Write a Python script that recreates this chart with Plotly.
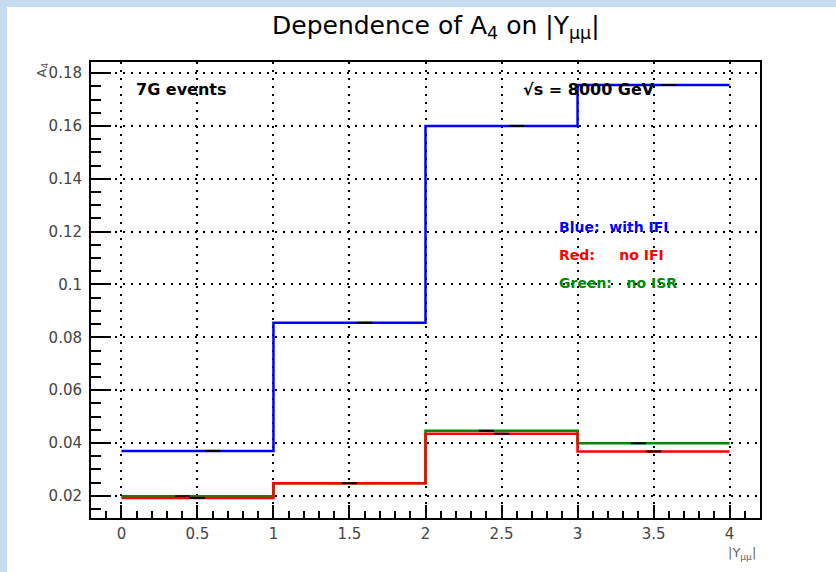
import plotly.graph_objects as go

# ---------------- data ----------------
bin_edges = [0, 1, 2, 3, 4]
bin_centers = [0.5, 1.5, 2.5, 3.5]
blue_with_ifi = [0.0370, 0.0855, 0.1600, 0.1755]
green_no_isr = [0.0198, 0.0248, 0.0446, 0.0399]
red_no_ifi = [0.0192, 0.0248, 0.0435, 0.0368]

x_tick_vals = [0, 0.5, 1, 1.5, 2, 2.5, 3, 3.5, 4]
x_tick_labels = ["0", "0.5", "1", "1.5", "2", "2.5", "3", "3.5", "4"]
y_tick_vals = [0.02, 0.04, 0.06, 0.08, 0.10, 0.12, 0.14, 0.16, 0.18]
y_tick_labels = ["0.02", "0.04", "0.06", "0.08", "0.1", "0.12", "0.14", "0.16", "0.18"]

# ---------------- geometry ----------------
W, H = 836, 572
L, R, T, B = 91, 76, 62, 54
PW, PH = W - L - R, H - T - B


def px2x(px):
    return (px - L) / PW


def py2y(py):
    return (H - B - py) / PH


FONT = "DejaVu Sans"

fig = go.Figure()


def add_hist(vals, color, offset):
    fig.add_trace(go.Scatter(
        x=bin_edges, y=vals + [vals[-1]], mode="lines",
        line=dict(shape="hv", color=color, width=2.5),
        hoverinfo="skip", showlegend=False))
    fig.add_trace(go.Scatter(
        x=[c + offset for c in bin_centers], y=vals, mode="markers",
        marker=dict(symbol="line-ew", size=11, color="black",
                    line=dict(width=2, color="black")),
        hoverinfo="skip", showlegend=False))


add_hist(blue_with_ifi, "#0000ff", 0.1)
add_hist(green_no_isr, "#008a00", -0.1)
add_hist(red_no_ifi, "#ff0000", 0.0)

axis_common = dict(
    ticks="inside", tickwidth=2, tickcolor="black",
    showline=True, linewidth=2, linecolor="black", mirror=True,
    showgrid=True, gridcolor="black", gridwidth=1.5, griddash="2px,6px",
    zeroline=False, tickfont=dict(family=FONT, size=15, color="#444"),
)

fig.update_xaxes(
    range=[-0.2, 4.2], tickmode="array", tickvals=x_tick_vals, ticktext=x_tick_labels,
    ticklen=13, ticklabelstandoff=1,
    minor=dict(ticks="inside", ticklen=7, tick0=0, dtick=0.1, tickwidth=2,
               tickcolor="black", showgrid=False),
    **axis_common)
fig.update_yaxes(
    range=[0.0116, 0.1842], tickmode="array", tickvals=y_tick_vals, ticktext=y_tick_labels,
    ticklen=20, ticklabelstandoff=4,
    minor=dict(ticks="inside", ticklen=10, tick0=0, dtick=0.005, tickwidth=2,
               tickcolor="black", showgrid=False),
    **axis_common)

ann = []
# title
ann.append(dict(text="Dependence of A<sub>4</sub> on |Y<sub>μμ</sub>|",
                x=px2x(436), y=py2y(27), xanchor="center", yanchor="middle",
                font=dict(family=FONT, size=25, color="black")))
# y-axis title (rotated, at top)
ann.append(dict(text="A<sub>4</sub>", textangle=-90,
                x=px2x(42), y=py2y(61), xanchor="center", yanchor="top",
                font=dict(family=FONT, size=13, color="#555")))
# x-axis title (at right end)
ann.append(dict(text="|Y<sub>μμ</sub>|",
                x=px2x(758), y=py2y(553), xanchor="right", yanchor="middle",
                font=dict(family=FONT, size=13, color="#666")))
# in-plot labels
ann.append(dict(text="<b>7G events</b>", x=px2x(134), y=py2y(90),
                xanchor="left", yanchor="middle",
                font=dict(family=FONT, size=16, color="black")))
ann.append(dict(text="<b>√s = 8000 GeV</b>", x=px2x(521), y=py2y(90),
                xanchor="left", yanchor="middle",
                font=dict(family=FONT, size=16, color="black")))
ann.append(dict(text="<b>Blue:  with IFI</b>", x=px2x(557), y=py2y(227),
                xanchor="left", yanchor="middle",
                font=dict(family=FONT, size=14, color="#0000ff")))
ann.append(dict(text="<b>Red:     no IFI</b>", x=px2x(557), y=py2y(255),
                xanchor="left", yanchor="middle",
                font=dict(family=FONT, size=14, color="#ff0000")))
ann.append(dict(text="<b>Green:   no ISR</b>", x=px2x(557), y=py2y(283),
                xanchor="left", yanchor="middle",
                font=dict(family=FONT, size=14, color="#008a00")))
for a in ann:
    a.update(xref="paper", yref="paper", showarrow=False)

shapes = [
    dict(type="rect", xref="paper", yref="paper", x0=px2x(0), x1=px2x(7),
         y0=py2y(H), y1=py2y(0), fillcolor="#c6dcf1", line=dict(width=0), layer="below"),
    dict(type="rect", xref="paper", yref="paper", x0=px2x(0), x1=px2x(W),
         y0=py2y(7), y1=py2y(0), fillcolor="#c6dcf1", line=dict(width=0), layer="below"),
]

fig.update_layout(
    width=W, height=H, autosize=False,
    margin=dict(l=L, r=R, t=T, b=B, pad=0),
    paper_bgcolor="white", plot_bgcolor="white",
    annotations=ann, shapes=shapes, showlegend=False,
)

fig.write_html("out.html")
